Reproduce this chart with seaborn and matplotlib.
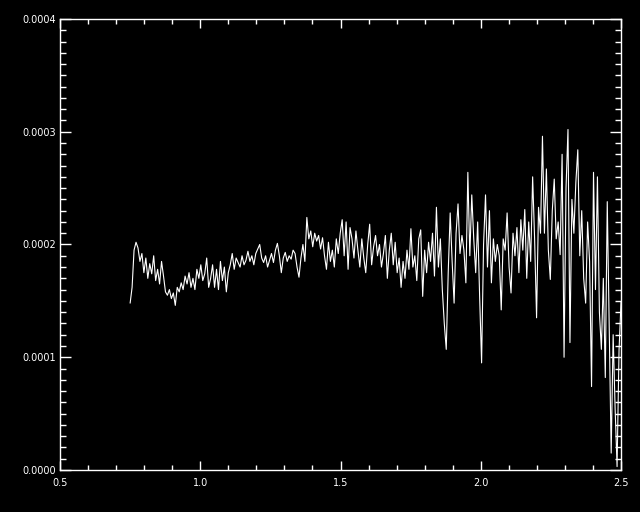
import numpy as np
import pandas as pd
import seaborn as sns
import matplotlib.pyplot as plt
from matplotlib.ticker import MultipleLocator, FormatStrFormatter

# flux in units of 1e-4 left to right
flux_1e4 = [
    1.48, 1.62, 1.95, 2.02,
    1.97, 1.85, 1.92, 1.75, 1.88,
    1.70, 1.83, 1.74, 1.90, 1.68,
    1.78, 1.65, 1.85, 1.72, 1.58,
    1.55, 1.60, 1.52, 1.57, 1.46,
    1.62, 1.58, 1.66, 1.60, 1.72,
    1.65, 1.75, 1.62, 1.70, 1.60,
    1.78, 1.70, 1.82, 1.68, 1.74, 1.88, 1.62,
    1.70, 1.82, 1.62, 1.78, 1.60, 1.85, 1.68, 1.80, 1.58, 1.75,
    1.82, 1.92, 1.78, 1.88, 1.84, 1.80, 1.90, 1.82, 1.86, 1.94,
    1.85, 1.90, 1.82, 1.92, 1.96, 2.00, 1.88, 1.84, 1.90, 1.80,
    1.86, 1.92, 1.84, 1.95, 2.01, 1.90, 1.75, 1.88, 1.93, 1.85, 1.90, 1.87, 1.95,
    1.92, 1.80, 1.71, 1.88, 2.00, 1.85, 2.24,
    2.05, 2.12, 1.98, 2.10, 2.03, 2.08, 1.96, 2.06, 1.90, 1.78,
    2.02, 1.85, 1.95, 1.80, 2.05, 1.92, 2.10, 2.22,
    1.90, 2.20, 1.78, 2.15, 2.05, 1.88, 2.12,
    1.95, 1.80, 2.05, 1.88, 1.75, 2.00, 2.18, 1.82, 1.98, 2.08, 1.90,
    2.00, 1.80, 1.92, 2.08, 1.70, 1.95, 2.10, 1.82, 2.02, 1.75,
    1.88, 1.62, 1.85, 1.70, 1.95, 1.78, 2.14, 1.80, 1.90, 1.68,
    2.05, 2.13, 1.54, 1.95, 1.75, 2.02, 1.85, 2.10, 1.72, 2.33,
    1.80, 2.05, 1.60, 1.30, 1.07, 1.75, 2.28, 1.85, 1.48, 2.10, 2.36, 1.92, 2.08,
    1.95, 1.66, 2.64, 1.90, 2.44, 2.05, 1.75, 2.20,
    1.54, 0.95, 2.00, 2.44, 1.80, 2.30, 1.66, 2.05,
    1.85, 2.00, 1.90, 1.42, 2.05, 1.95, 2.28, 1.80, 1.57, 2.10,
    1.90, 2.15, 1.75, 2.22, 1.95, 2.31, 1.70, 2.20, 1.85, 2.60, 2.05, 1.35, 2.33, 2.10,
    2.96, 2.10, 2.67, 1.95, 1.69, 2.30, 2.58, 2.05,
    2.20, 1.91, 2.80, 1.00, 2.50, 3.02, 1.13, 2.40,
    2.10, 2.55, 2.84, 1.90, 2.30, 1.70, 1.48, 2.20,
    1.85, 0.74, 2.64, 1.60, 2.60, 1.40,
    1.07, 1.70, 0.82, 2.38, 1.27, 0.15, 1.20, 0.55, 0.03, 1.06, 1.49,
]
wave_start, wave_end = 0.75, 2.5

flux = np.array(flux_1e4) * 1e-4
wave = np.linspace(wave_start, wave_end, len(flux))
df = pd.DataFrame({"wave": wave, "flux": flux})

sns.set_style("dark")
plt.rcParams["font.family"] = ["DejaVu Sans"]

fig = plt.figure(figsize=(6.4, 5.12), dpi=100, facecolor="black")
ax = fig.add_axes([60 / 640, 42 / 512, 561 / 640, 451 / 512])
ax.set_facecolor("black")

sns.lineplot(data=df, x="wave", y="flux", color="white", lw=0.8,
             estimator=None, sort=False, ax=ax)

ax.set_xlim(0.5, 2.5)
ax.set_ylim(0, 0.0004)
ax.set_xlabel("")
ax.set_ylabel("")
ax.grid(False)

ax.xaxis.set_major_locator(MultipleLocator(0.5))
ax.xaxis.set_minor_locator(MultipleLocator(0.1))
ax.yaxis.set_major_locator(MultipleLocator(0.0001))
ax.yaxis.set_minor_locator(MultipleLocator(0.00001))
ax.xaxis.set_major_formatter(FormatStrFormatter("%.1f"))
ax.yaxis.set_major_formatter(FormatStrFormatter("%.4f"))

for s in ax.spines.values():
    s.set_color("white")
    s.set_linewidth(1)
    s.set_visible(True)

ax.tick_params(axis="x", which="major", direction="in", length=6.5, width=1,
               color="white", labelcolor="white", labelsize=7, pad=6,
               top=True, bottom=True)
ax.tick_params(axis="x", which="minor", direction="in", length=3.3, width=1,
               color="white", top=True, bottom=True)
ax.tick_params(axis="y", which="major", direction="in", length=8, width=1,
               color="white", labelcolor="white", labelsize=7, pad=3,
               left=True, right=True)
ax.tick_params(axis="y", which="minor", direction="in", length=4.5, width=1,
               color="white", left=True, right=True)

fig.savefig("out.png", dpi=100, facecolor="black")
